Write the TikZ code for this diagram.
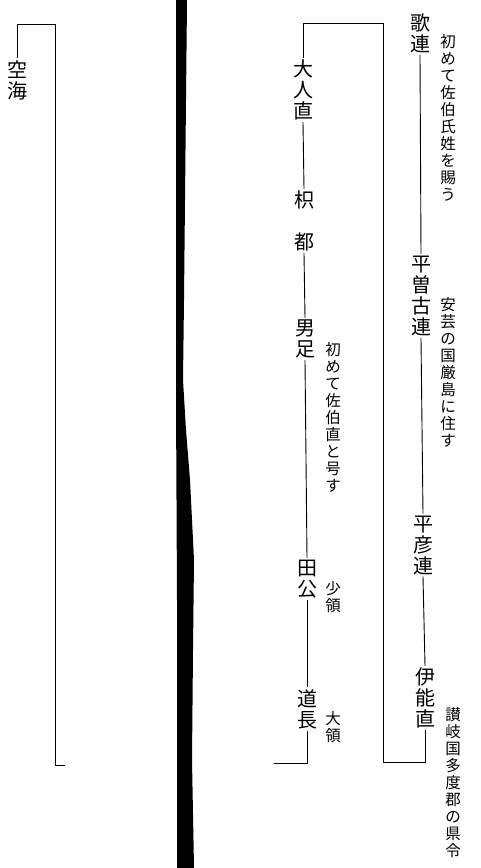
\documentclass[tikz,border=0pt]{standalone}
\usepackage{fontspec}
\newfontfamily\jp{Noto Sans CJK JP}
\tikzset{
  person/.style={inner sep=0pt, outer sep=2pt, align=center, font=\jp\fontsize{20}{21}\selectfont},
  remark/.style={inner sep=0pt, align=center, font=\jp\fontsize{15.5}{17}\selectfont},
  link/.style={line width=0.9pt, black}
}
\begin{document}
\begin{tikzpicture}[x=1pt,y=-1pt]
\useasboundingbox[fill=white] (0,0) rectangle (480,868);
% black binding band
\fill[black] (176,0) -- (187,0) -- (186,100) -- (185,200) -- (184,300) -- (183,380)
  -- (186,430) -- (190,480) -- (194,560) -- (193,650) -- (192,760) -- (194,868)
  -- (177,868) -- (177,600) -- (176,400) -- cycle;

% left page
\node[person] (kukai) at (17,80) {空\\海};
\coordinate (kt) at (55,24);
\coordinate (kend) at (65,765);
\draw[link] (kukai.north) |- (kt) |- (kend);

% right page, left column
\node[person] (ooto) at (303,90) {大\\人\\直};
\node[person] (kito) at (304,221) {枳\\[21pt]都};
\node[person] (otari) at (305,339) {男\\足};
\node[person] (takimi) at (307,579) {田\\公};
\node[person] (michi) at (307,709) {道\\長};
\coordinate (rt) at (383,23);
\coordinate (dend) at (274,763);
\coordinate (bj) at (425,762);

% right column
\node[person] (uta) at (420,33) {歌\\連};
\node[person] (hesoko) at (421,296) {平\\曽\\古\\連};
\node[person] (hiko) at (423,545) {平\\彦\\連};
\node[person] (inou) at (425,698) {伊\\能\\直};

% remarks
\node[remark] (r1) at (448,118) {初\\め\\て\\佐\\伯\\氏\\姓\\を\\賜\\う};
\node[remark] (r2) at (448,372) {安\\芸\\の\\国\\厳\\島\\に\\住\\す};
\node[remark] (r3) at (333,417) {初\\め\\て\\佐\\伯\\直\\と\\号\\す};
\node[remark] (r4) at (333,597) {少\\領};
\node[remark] (r5) at (333,727) {大\\領};
\node[remark] (r6) at (453,783) {讃\\岐\\国\\多\\度\\郡\\の\\県\\令};

% connectors
\draw[link] (ooto.north) |- (rt) |- (bj) -- (inou.south);
\draw[link] (ooto.south) -- (kito.north);
\draw[link] (kito.south) -- (otari.north);
\draw[link] (otari.south) -- (takimi.north);
\draw[link] (takimi.south) -- (michi.north);
\draw[link] (michi.south) |- (dend);
\draw[link] (uta.south) -- (hesoko.north);
\draw[link] (hesoko.south) -- (hiko.north);
\draw[link] (hiko.south) -- (inou.north);
\end{tikzpicture}
\end{document}
